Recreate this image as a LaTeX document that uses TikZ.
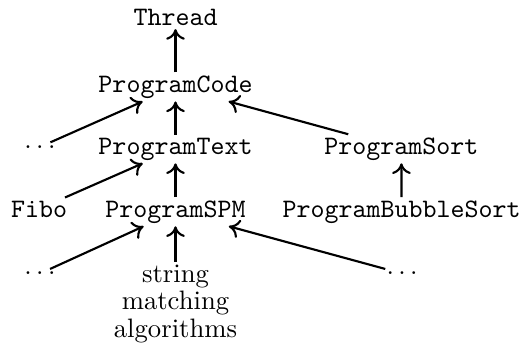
\documentclass[tikz,border=0pt]{standalone}
\usetikzlibrary{arrows.meta}

\begin{document}
\begin{tikzpicture}[every node/.style={inner sep=1pt, anchor=base},
    cls/.style={font=\ttfamily},
    link/.style={-{To[length=4pt,width=7pt]}, line width=0.8pt}]
  \useasboundingbox (0,0) rectangle (6.893,-4.626);
  % Classes
  \node[cls] (thread) at (2.313,-0.339) {Thread};
  \node[cls] (code) at (2.313,-1.215) {ProgramCode};
  \node[cls] (text) at (2.313,-2.030) {ProgramText};
  \node[cls] (sort) at (5.290,-2.030) {ProgramSort};
  \node[cls] (fibo) at (0.514,-2.860) {Fibo};
  \node[cls] (spm) at (2.313,-2.860) {ProgramSPM};
  \node[cls] (bubble) at (5.292,-2.860) {ProgramBubbleSort};
  % Further subclasses
  \node (moreCode) at (0.527,-1.955) {$\ldots$};
  \node (moreSpmA) at (0.527,-3.624) {$\ldots$};
  \node (moreSpmB) at (5.300,-3.624) {$\ldots$};
  \node[anchor=north, align=center, font=\fontsize{10}{10.2}\selectfont] (algos) at (2.313,-3.453) {string\\matching\\algorithms};
  % Inheritance
  \draw[link] (code) -- (thread);
  \draw[link] (moreCode) -- (code);
  \draw[link] (text) -- (code);
  \draw[link] (sort) -- (code);
  \draw[link] (fibo) -- (text);
  \draw[link] (spm) -- (text);
  \draw[link] (bubble) -- (sort);
  \draw[link] (moreSpmA) -- (spm);
  \draw[link] (algos) -- (spm);
  \draw[link] (moreSpmB) -- (spm);
\end{tikzpicture}
\end{document}
